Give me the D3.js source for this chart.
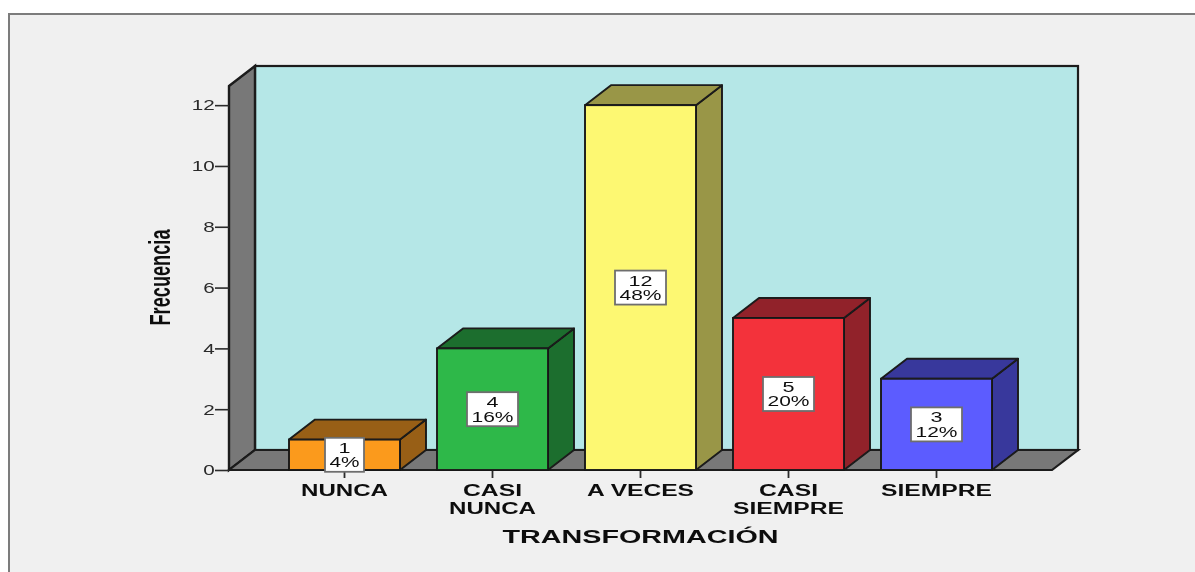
<!DOCTYPE html>
<html>
<head>
<meta charset="utf-8">
<script src="https://cdn.jsdelivr.net/npm/d3@7"></script>
<style>
html, body { margin: 0; padding: 0; background: #fff; }
svg { display: block; }
text { font-family: "Liberation Sans", Arial, sans-serif; fill: #111; }
</style>
</head>
<body>
<div id="chart"></div>
<script>
var categories = ["NUNCA", "CASI NUNCA", "A VECES", "CASI SIEMPRE", "SIEMPRE"];
var frecuencia = [1, 4, 12, 5, 3];
var porcentaje = ["4%", "16%", "48%", "20%", "12%"];
var yTicks = [0, 2, 4, 6, 8, 10, 12];

var frontColors = ["#fb9a1c", "#2db84a", "#fdf872", "#f3333b", "#5c5cff"];
var darkColors = ["#985e14", "#1c6e2d", "#999646", "#91212a", "#37389c"];

var svgWidth = 1195, svgHeight = 572;
// front plane of the chart box, back plane is shifted by depth
var plotLeft = 229, plotRight = 1052, plotTop = 86, plotBottom = 470;
var depthX = 26, depthY = -20;

var svg = d3.select("#chart").append("svg")
    .attr("width", svgWidth)
    .attr("height", svgHeight);

// the reference is a soft, upscaled screenshot
var defs = svg.append("defs");
defs.append("filter").attr("id", "soft")
    .append("feGaussianBlur").attr("stdDeviation", 0.6);

var root = svg.append("g").attr("filter", "url(#soft)");

// outer frame, runs off the right and bottom of the picture
root.append("rect")
    .attr("x", 9).attr("y", 14)
    .attr("width", svgWidth + 20).attr("height", svgHeight + 20)
    .attr("fill", "#f0f0f0")
    .attr("stroke", "#7c7c7c")
    .attr("stroke-width", 2);

var yScale = d3.scaleLinear().domain([0, 12.63]).range([plotBottom, plotTop]);
var xScale = d3.scaleBand().domain(categories)
    .range([270.5, 1010.5])
    .paddingInner(0.25)
    .paddingOuter(0.125);

function poly(points) {
    var p = d3.path();
    points.forEach(function(pt, i) {
        if (i === 0) p.moveTo(pt[0], pt[1]);
        else p.lineTo(pt[0], pt[1]);
    });
    p.closePath();
    return p.toString();
}

var lineColor = "#1a1a1a";

// back wall
root.append("rect")
    .attr("x", plotLeft + depthX).attr("y", plotTop + depthY)
    .attr("width", plotRight - plotLeft).attr("height", plotBottom - plotTop)
    .attr("fill", "#b5e7e7")
    .attr("stroke", lineColor).attr("stroke-width", 2.2);

// left wall
root.append("path")
    .attr("d", poly([[plotLeft, plotTop], [plotLeft + depthX, plotTop + depthY], [plotLeft + depthX, plotBottom + depthY], [plotLeft, plotBottom]]))
    .attr("fill", "#787878")
    .attr("stroke", lineColor).attr("stroke-width", 2.4);

// floor
root.append("path")
    .attr("d", poly([[plotLeft, plotBottom], [plotLeft + depthX, plotBottom + depthY], [plotRight + depthX, plotBottom + depthY], [plotRight, plotBottom]]))
    .attr("fill", "#787878")
    .attr("stroke", lineColor).attr("stroke-width", 2.2);

// axes
var yAxis = d3.axisLeft(yScale).tickValues(yTicks).tickSize(14).tickPadding(0);
var yGroup = root.append("g")
    .attr("transform", `translate(${plotLeft}, 0)`)
    .call(yAxis);
yGroup.select(".domain").remove();
yGroup.selectAll("line").attr("stroke", "#2a2a2a").attr("stroke-width", 1.6);
yGroup.selectAll("text")
    .attr("font-size", 15)
    .attr("transform", "scale(1.38, 1)")
    .attr("x", -10.3)
    .style("fill", "#2a2a2a")
    .style("text-anchor", "end");

var xAxis = d3.axisBottom(xScale).tickSize(8).tickFormat("");
var xGroup = root.append("g")
    .attr("transform", `translate(0, ${plotBottom})`)
    .call(xAxis);
xGroup.select(".domain").remove();
xGroup.selectAll("line").attr("stroke", "#2a2a2a").attr("stroke-width", 1.8);

// bars
var bars = root.append("g").selectAll("g")
    .data(categories)
    .enter()
    .append("g");

bars.append("path")
    .attr("d", function(d, i) {
        var x1 = xScale(d) + xScale.bandwidth(), y1 = yScale(frecuencia[i]);
        return poly([[x1, y1], [x1 + depthX, y1 + depthY], [x1 + depthX, plotBottom + depthY], [x1, plotBottom]]);
    })
    .attr("fill", function(d, i) { return darkColors[i]; })
    .attr("stroke", lineColor).attr("stroke-width", 1.9).attr("stroke-linejoin", "round");

bars.append("path")
    .attr("d", function(d, i) {
        var x0 = xScale(d), x1 = x0 + xScale.bandwidth(), y1 = yScale(frecuencia[i]);
        return poly([[x0, y1], [x0 + depthX, y1 + depthY], [x1 + depthX, y1 + depthY], [x1, y1]]);
    })
    .attr("fill", function(d, i) { return darkColors[i]; })
    .attr("stroke", lineColor).attr("stroke-width", 1.9).attr("stroke-linejoin", "round");

bars.append("rect")
    .attr("x", function(d) { return xScale(d); })
    .attr("y", function(d, i) { return yScale(frecuencia[i]); })
    .attr("width", xScale.bandwidth())
    .attr("height", function(d, i) { return plotBottom - yScale(frecuencia[i]); })
    .attr("fill", function(d, i) { return frontColors[i]; })
    .attr("stroke", lineColor).attr("stroke-width", 1.9);

// value boxes, width follows the percent text
var boxH = 34;
function numWidth(str) { return str.replace("%", "").length * 12; }
function pctWidth(str) { return numWidth(str) + 18; }
function boxMid(i) { return Math.min((yScale(frecuencia[i]) + plotBottom) / 2, plotBottom + 2 - boxH / 2); }

bars.append("rect")
    .attr("x", function(d, i) { return xScale(d) + xScale.bandwidth() / 2 - (pctWidth(porcentaje[i]) + 9) / 2; })
    .attr("y", function(d, i) { return boxMid(i) - boxH / 2; })
    .attr("width", function(d, i) { return pctWidth(porcentaje[i]) + 9; })
    .attr("height", boxH)
    .attr("fill", "#fff")
    .attr("stroke", "#6e6e6e").attr("stroke-width", 1.8);

function wideText(g, x, y, str, size, width, weight) {
    return g.append("text")
        .attr("x", x).attr("y", y)
        .attr("text-anchor", "middle")
        .attr("font-size", size)
        .attr("font-weight", weight || "normal")
        .attr("textLength", width)
        .attr("lengthAdjust", "spacingAndGlyphs")
        .text(str);
}

bars.each(function(d, i) {
    var g = d3.select(this);
    var cx = xScale(d) + xScale.bandwidth() / 2;
    var cy = boxMid(i);
    var n = String(frecuencia[i]);
    wideText(g, cx, cy - 2, n, 14, numWidth(n), "normal");
    wideText(g, cx, cy + 12.5, porcentaje[i], 14, pctWidth(porcentaje[i]), "normal");
});

// category labels, split on the space for the two-word ones
var labelWidths = { "NUNCA": 87, "CASI": 59, "A VECES": 107, "SIEMPRE": 111 };
categories.forEach(function(c) {
    var cx = xScale(c) + xScale.bandwidth() / 2;
    var words = c === "A VECES" ? [c] : c.split(" ");
    words.forEach(function(w, j) {
        wideText(root, cx, 495.5 + j * 18, w, 16, labelWidths[w], "bold");
    });
});

// axis titles
wideText(root, 640.5, 543, "TRANSFORMACIÓN", 19, 276, "bold");

root.append("g")
    .attr("transform", "translate(169.5, 277.5) rotate(-90)")
    .call(function(g) { wideText(g, 0, 0, "Frecuencia", 30, 96, "bold"); });
</script>
</body>
</html>
